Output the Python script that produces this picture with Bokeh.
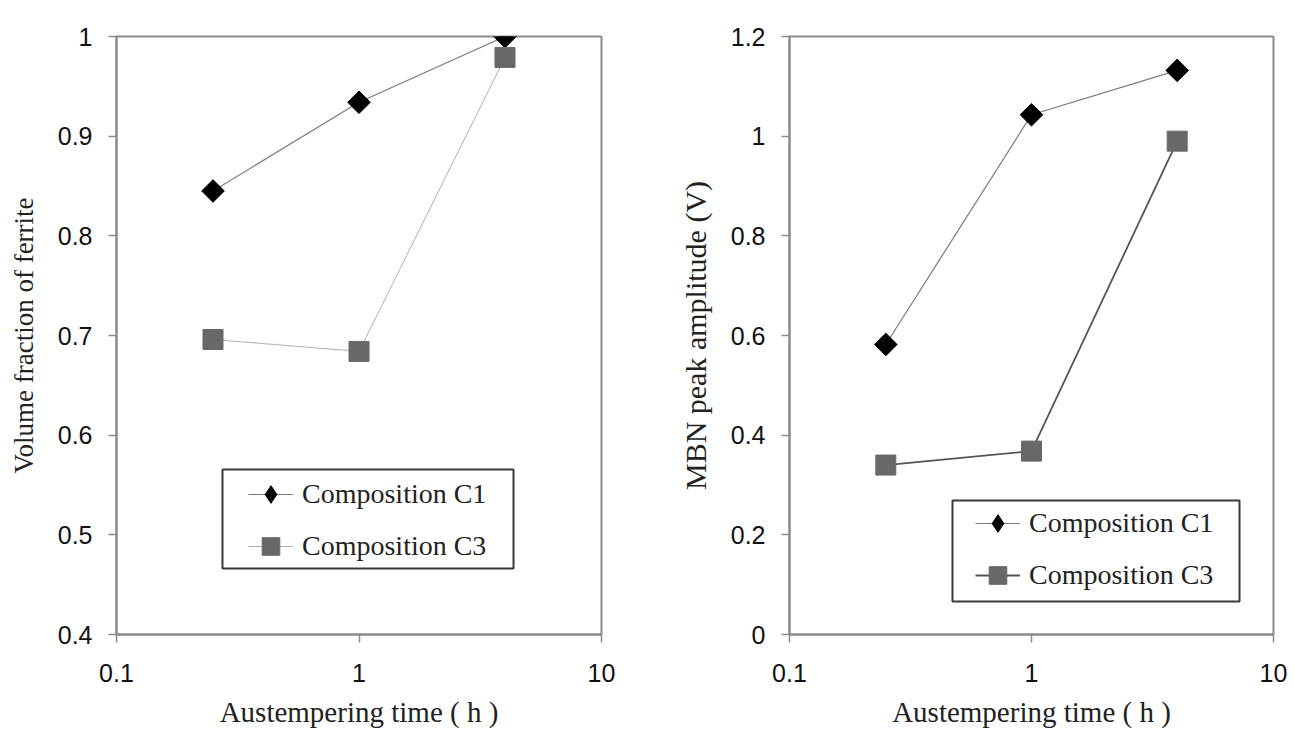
import numpy as np
from bokeh.plotting import figure
from bokeh.layouts import row
from bokeh.models import Legend, LegendItem, FixedTicker, BoxAnnotation
from bokeh.embed import file_html
from bokeh.resources import INLINE

# ---- data ----
times = [0.25, 1.0, 4.0]
vf_c1 = [0.845, 0.934, 1.0]
vf_c3 = [0.696, 0.684, 0.979]
mbn_c1 = [0.582, 1.043, 1.132]
mbn_c3 = [0.340, 0.368, 0.990]
x_ticks = [0.1, 1, 10]
vf_ticks = [0.4, 0.5, 0.6, 0.7, 0.8, 0.9, 1.0]
mbn_ticks = [0, 0.2, 0.4, 0.6, 0.8, 1.0, 1.2]
label_c1 = "Composition C1"
label_c3 = "Composition C3"
x_title = "Austempering time ( h )"
y_title_left = "Volume fraction of ferrite"
y_title_right = "MBN peak amplitude (V)"

SANS = "Liberation Sans"
SERIF = "Liberation Serif"
FRAME = "#8a8a8a"


def style(p, yticks, ytitle, ysize):
    p.xgrid.visible = False
    p.ygrid.visible = False
    p.outline_line_color = FRAME
    p.outline_line_width = 2
    p.background_fill_color = "white"
    p.border_fill_color = "white"
    for ax in (p.xaxis[0], p.yaxis[0]):
        ax.axis_line_color = FRAME
        ax.axis_line_width = 2
        ax.major_tick_line_color = FRAME
        ax.major_tick_line_width = 1.5
        ax.major_tick_in = 0
        ax.major_tick_out = 8
        ax.minor_tick_line_color = None
        ax.major_label_text_font = SANS
        ax.major_label_text_font_size = "25px"
        ax.major_label_text_color = "#111111"
        ax.axis_label_text_font = SERIF
        ax.axis_label_text_font_style = "normal"
        ax.axis_label_text_color = "#222222"
    p.xaxis[0].ticker = FixedTicker(ticks=x_ticks)
    p.xaxis[0].major_label_overrides = {0.1: "0.1", 1: "1", 10: "10"}
    p.xaxis[0].major_label_standoff = 21
    p.xaxis[0].axis_label = x_title
    p.xaxis[0].axis_label_text_font_size = "29px"
    p.xaxis[0].axis_label_standoff = 11
    p.yaxis[0].ticker = FixedTicker(ticks=yticks)
    p.yaxis[0].major_label_overrides = {t: f"{t:g}" for t in yticks}
    p.yaxis[0].major_label_standoff = 16
    p.yaxis[0].axis_label = ytitle
    p.yaxis[0].axis_label_text_font_size = ysize
    p.yaxis[0].axis_label_standoff = 16


def panel(width, height, ylo, yhi, yc1, yc3, yticks, ytitle, ysize, borders,
          c3_line_color, c3_line_width, leg_xy, box):
    left, right, top, bottom = borders
    p = figure(width=width, height=height, x_axis_type="log",
               x_range=(0.1, 10), y_range=(ylo, yhi),
               output_backend="svg", toolbar_location=None,
               min_border_left=left, min_border_right=right,
               min_border_top=top, min_border_bottom=bottom)
    style(p, yticks, ytitle, ysize)
    l1 = p.line(times, yc1, line_color="#7a7a7a", line_width=1.2)
    # diamond (used by the legend) under a rotated square (wider diamond look)
    s1 = p.scatter(times, yc1, marker="diamond", size=21,
                   fill_color="black", line_color="black")
    p.scatter(times, yc1, marker="square", angle=np.pi / 4, size=16,
              fill_color="black", line_color="black")
    l3 = p.line(times, yc3, line_color=c3_line_color, line_width=c3_line_width)
    s3 = p.scatter(times, yc3, marker="square", size=20,
                   fill_color="#686868", line_color="#686868")
    bx = BoxAnnotation(left=box[0], right=box[1], top=box[2], bottom=box[3],
                       left_units="canvas", right_units="canvas",
                       top_units="canvas", bottom_units="canvas",
                       fill_color="white", fill_alpha=1.0,
                       line_color="#3a3a3a", line_alpha=1.0, line_width=2,
                       level="overlay")
    p.add_layout(bx)
    leg = Legend(items=[LegendItem(label=label_c1, renderers=[l1, s1]),
                        LegendItem(label=label_c3, renderers=[l3, s3])],
                 location=leg_xy, orientation="vertical",
                 padding=4, margin=0, spacing=8,
                 glyph_width=45, glyph_height=44, label_height=40,
                 label_standoff=9,
                 label_text_font=SERIF, label_text_font_size="28px",
                 label_text_color="#222222",
                 border_line_alpha=0, background_fill_alpha=0,
                 level="overlay")
    p.add_layout(leg)
    return p


H = 730
p1 = panel(650, H, 0.4, 1.0, vf_c1, vf_c3, vf_ticks, y_title_left, "27px",
           (116, 49, 36, H - 639), "#b0b0b0", 1.0,
           (128, 62), (222, 513, 469, 568))
p2 = panel(644, H, 0.0, 1.2, mbn_c1, mbn_c3, mbn_ticks, y_title_right, "30px",
           (139, 21, 20, H - 636), "#555555", 1.8,
           (182, 33), (302, 589, 500, 601))

layout = row(p1, p2)
open("out.html", "w").write(file_html(layout, INLINE))
